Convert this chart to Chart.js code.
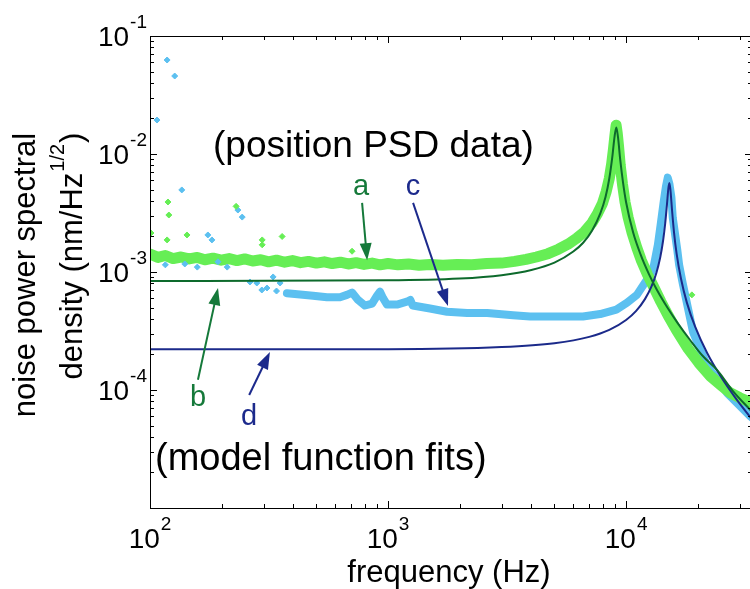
<!DOCTYPE html>
<html>
<head>
<meta charset="utf-8">
<script src="https://cdn.jsdelivr.net/npm/chart.js@4"></script>
<style>
  html, body { margin: 0; padding: 0; background: #fff; overflow: hidden; }
</style>
</head>
<body>
<canvas id="psd" width="760" height="589"></canvas>
<script>
// ---- data (frequency in Hz, amplitude in nm/Hz^1/2) ----
const greenDataFreq = [100,108,116,125,135,146,158,170,184,199,215,232,250,270,292,315,340,368,397,429,463,500,540,583,630,680,734,793,857,925,1000,1100,1220,1350,1500,1700,1950,2250,2600,3000,3400,3800,4200,4700,5200,5700,6200,6700,7200,7600,7950,8250,8500,8700,8850,8980,9080,9180,9300,9450,9650,9900,10200,10600,11100,11600,12300,13000,14000,15000,16300,18200,20200,22500,25000,27300,30000,33200,37000];
const greenDataVal = [1.42e-3,1.33e-3,1.38e-3,1.30e-3,1.34e-3,1.29e-3,1.33e-3,1.27e-3,1.31e-3,1.26e-3,1.30e-3,1.25e-3,1.29e-3,1.24e-3,1.27e-3,1.22e-3,1.26e-3,1.21e-3,1.25e-3,1.20e-3,1.23e-3,1.19e-3,1.22e-3,1.18e-3,1.21e-3,1.17e-3,1.20e-3,1.16e-3,1.19e-3,1.15e-3,1.18e-3,1.15e-3,1.17e-3,1.14e-3,1.16e-3,1.14e-3,1.16e-3,1.15e-3,1.18e-3,1.19e-3,1.23e-3,1.28e-3,1.34e-3,1.43e-3,1.56e-3,1.72e-3,1.93e-3,2.2e-3,2.62e-3,3.15e-3,3.8e-3,4.8e-3,6.2e-3,8.3e-3,1.1e-2,1.45e-2,1.75e-2,1.5e-2,1.15e-2,8.0e-3,5.6e-3,3.9e-3,2.9e-3,2.15e-3,1.6e-3,1.25e-3,9.5e-4,7.6e-4,5.6e-4,4.3e-4,3.2e-4,2.25e-4,1.7e-4,1.32e-4,1.1e-4,9.5e-5,8.6e-5,7.9e-5,7.2e-5];

const blueDataFreq = [376,427,484,554,628,672,706,748,800,857,899,925,953,990,1090,1200,1240,1270,1500,1770,2150,2610,3350,3950,4800,5650,6590,7780,9100,10100,11100,12000,12800,13100,13600,14000,14400,14700,14960,15200,15500,15700,16400,16700,17300,19100,21900,26600,33200,37000];
const blueDataVal = [6.6e-4,6.45e-4,6.3e-4,6.1e-4,6.1e-4,6.4e-4,6.7e-4,5.8e-4,5.2e-4,5.4e-4,6.3e-4,6.8e-4,6.0e-4,5.3e-4,5.3e-4,5.6e-4,5.8e-4,5.2e-4,4.9e-4,4.6e-4,4.5e-4,4.5e-4,4.3e-4,4.2e-4,4.2e-4,4.2e-4,4.2e-4,4.4e-4,4.8e-4,5.5e-4,6.4e-4,8.1e-4,1.0e-3,1.15e-3,1.7e-3,2.6e-3,4.0e-3,5.3e-3,6.3e-3,5.6e-3,4.3e-3,2.9e-3,1.55e-3,1.15e-3,8.0e-4,3.1e-4,1.6e-4,9.4e-5,6.0e-5,5.0e-5];

// stray low-frequency points
const blueStrayFreq = [107,118,127,136,175,182,234,244,158,211,263,281,310,329,295,352,116,140,193,340];
const blueStrayVal = [1.94e-2,6.26e-2,4.58e-2,4.96e-3,2.06e-3,1.87e-3,3.35e-3,2.92e-3,1.10e-3,1.10e-3,8.23e-4,8.07e-4,7.32e-4,9.08e-4,7.04e-4,8.07e-4,1.15e-3,1.17e-3,1.22e-3,6.9e-4];
const greenStrayFreq = [119,120,101,118,143,296,296,230,359,706,18900];
const greenStrayVal = [3.92e-3,3.04e-3,2.14e-3,1.87e-3,2.06e-3,1.87e-3,1.70e-3,3.6e-3,2.0e-3,1.5e-3,6.4e-4];

// model fits
const greenFitFreq = [100,1000,2000,3000,4000,5000,6000,6600,7200,7800,8200,8500,8750,8950,9100,9250,9450,9700,10000,10700,11500,12500,13500,15000,16500,18600,21000,24100,28000,33200,37000];
const greenFitVal = [8.4e-4,8.5e-4,8.8e-4,9.4e-4,1.04e-3,1.2e-3,1.49e-3,1.77e-3,2.25e-3,3.16e-3,4.35e-3,6.2e-3,9.4e-3,1.42e-2,1.68e-2,1.38e-2,8.9e-3,5.8e-3,3.9e-3,2.17e-3,1.41e-3,9.5e-4,7.0e-4,4.9e-4,3.67e-4,2.64e-4,1.94e-4,1.48e-4,9.9e-5,6.8e-5,5.4e-5];
const blueFitFreq = [100,1000,3000,5000,7000,8500,10000,11000,12000,12800,13400,13900,14300,14600,14850,15050,15200,15350,15600,15900,16300,17000,18000,19500,21900,25000,29000,33200,37000];
const blueFitVal = [2.22e-4,2.22e-4,2.31e-4,2.49e-4,2.82e-4,3.23e-4,3.92e-4,4.66e-4,5.89e-4,7.58e-4,9.8e-4,1.32e-3,1.84e-3,2.59e-3,3.74e-3,5.1e-3,5.68e-3,5.0e-3,3.32e-3,2.16e-3,1.43e-3,8.8e-4,5.5e-4,3.44e-4,2.06e-4,1.30e-4,8.4e-5,5.9e-5,4.5e-5];

// axes
const xMin = 100, xMax = 33800;
const yMin = 1e-5, yMax = 1e-1;
const xTickExp = [2, 3, 4];
const yTickExp = [-1, -2, -3, -4];

// annotation letters and arrows: [label, colour, labelF, labelV, fromF, fromV, toF, toV]
const pointers = [
  ["a", "#15793a", 771, 5.24e-3, 778, 3.85e-3, 817, 1.26e-3],
  ["c", "#1c2a8c", 1274, 5.24e-3, 1274, 3.85e-3, 1786, 5.15e-4],
  ["b", "#15793a", 159, 8.55e-5, 159, 1.22e-4, 193, 7.31e-4],
  ["d", "#1c2a8c", 261, 5.9e-5, 261, 9.07e-5, 319, 2.1e-4]
];

const FONT = '"Liberation Sans", Arial, Helvetica, sans-serif';

function pts(fs, vs) {
  return fs.map((f, i) => ({ x: f, y: vs[i] }));
}

function arrow(ctx, x1, y1, x2, y2, color) {
  const ang = Math.atan2(y2 - y1, x2 - x1);
  const head = 17, half = 6;
  const c = Math.cos(ang), s = Math.sin(ang);
  ctx.strokeStyle = color;
  ctx.fillStyle = color;
  ctx.lineWidth = 2;
  ctx.beginPath();
  ctx.moveTo(x1, y1);
  ctx.lineTo(x2 - head * c * 0.8, y2 - head * s * 0.8);
  ctx.stroke();
  ctx.beginPath();
  ctx.moveTo(x2, y2);
  ctx.lineTo(x2 - head * c + half * s, y2 - head * s - half * c);
  ctx.lineTo(x2 - head * c - half * s, y2 - head * s + half * c);
  ctx.closePath();
  ctx.fill();
}

// "10" with a superscript exponent; (cx, cy) is the middle of the base "10"
function powerLabel(ctx, exp, cx, cy, anchor) {
  ctx.font = "28px " + FONT;
  const wb = ctx.measureText("10").width;
  ctx.font = "19px " + FONT;
  const we = ctx.measureText(String(exp)).width;
  let left;
  if (anchor === "right") left = cx - wb - we - 1;
  else left = cx - (wb + we + 1) / 2;
  ctx.fillStyle = "#000";
  ctx.textBaseline = "middle";
  ctx.textAlign = "left";
  ctx.font = "28px " + FONT;
  ctx.fillText("10", left, cy);
  ctx.font = "19px " + FONT;
  ctx.fillText(String(exp), left + wb + 1, cy - 15);
}

const framePlugin = {
  id: "frame",
  afterDatasetsDraw(chart) {
    const ctx = chart.ctx;
    const a = chart.chartArea;
    const xs = chart.scales.x, ys = chart.scales.y;
    ctx.save();

    // box
    ctx.strokeStyle = "#000";
    ctx.lineWidth = 1;
    ctx.strokeRect(a.left + 0.5, a.top + 0.5, a.right - a.left, a.bottom - a.top);

    // inward ticks on all four sides
    ctx.beginPath();
    for (let d = 2; d <= 4; d++) {
      for (let m = 1; m <= 9; m++) {
        const f = m * Math.pow(10, d);
        if (f < xMin || f > xMax) continue;
        const px = Math.round(xs.getPixelForValue(f)) + 0.5;
        const len = m === 1 ? 7 : 4;
        ctx.moveTo(px, a.bottom); ctx.lineTo(px, a.bottom - len);
        ctx.moveTo(px, a.top); ctx.lineTo(px, a.top + len);
      }
    }
    for (let d = -5; d <= -2; d++) {
      for (let m = 1; m <= 9; m++) {
        const v = m * Math.pow(10, d);
        if (v < yMin || v > yMax) continue;
        const py = Math.round(ys.getPixelForValue(v)) + 0.5;
        const len = m === 1 ? 7 : 4;
        ctx.moveTo(a.left, py); ctx.lineTo(a.left + len, py);
        ctx.moveTo(a.right, py); ctx.lineTo(a.right - len, py);
      }
    }
    ctx.stroke();

    // tick labels
    xTickExp.forEach(e => {
      powerLabel(ctx, e, xs.getPixelForValue(Math.pow(10, e)), a.bottom + 32, "center");
    });
    yTickExp.forEach(e => {
      powerLabel(ctx, e, a.left - 3, ys.getPixelForValue(Math.pow(10, e)) + 2, "right");
    });

    // axis titles
    ctx.fillStyle = "#000";
    ctx.font = "31px " + FONT;
    ctx.textAlign = "center";
    ctx.textBaseline = "middle";
    ctx.fillText("frequency (Hz)", (a.left + a.right) / 2 - 2, 573);

    const midY = (a.top + a.bottom) / 2;
    ctx.save();
    ctx.translate(26, midY + 3);
    ctx.rotate(-Math.PI / 2);
    ctx.fillText("noise power spectral", 0, 0);
    ctx.restore();

    ctx.save();
    ctx.translate(73, midY - 16);
    ctx.rotate(-Math.PI / 2);
    ctx.font = "31px " + FONT;
    const p1 = "density (nm/Hz", p3 = ")";
    const w1 = ctx.measureText(p1).width, w3 = ctx.measureText(p3).width;
    ctx.font = "20px " + FONT;
    const w2 = ctx.measureText("1/2").width;
    let x0 = -(w1 + w2 + w3 + 2) / 2;
    ctx.textAlign = "left";
    ctx.font = "31px " + FONT;
    ctx.fillText(p1, x0, 0);
    ctx.font = "20px " + FONT;
    ctx.fillText("1/2", x0 + w1 + 1, -15);
    ctx.font = "31px " + FONT;
    ctx.fillText(p3, x0 + w1 + w2 + 2, 0);
    ctx.restore();

    // in-plot captions
    ctx.textAlign = "left";
    ctx.font = "37px " + FONT;
    ctx.fillText("(position PSD data)", 213, 147);
    ctx.font = "38px " + FONT;
    ctx.fillText("(model function fits)", 155, 460);

    // lettered pointers
    pointers.forEach(p => {
      const [txt, col, lf, lv, f1, v1, f2, v2] = p;
      arrow(ctx, xs.getPixelForValue(f1), ys.getPixelForValue(v1),
            xs.getPixelForValue(f2), ys.getPixelForValue(v2), col);
      ctx.fillStyle = col;
      ctx.font = "29px " + FONT;
      ctx.textAlign = "center";
      ctx.textBaseline = "middle";
      ctx.fillText(txt, xs.getPixelForValue(lf), ys.getPixelForValue(lv));
    });

    ctx.restore();
  }
};

new Chart(document.getElementById("psd"), {
  type: "line",
  data: {
    datasets: [
      {
        label: "fit b",
        data: pts(greenFitFreq, greenFitVal),
        borderColor: "#0d6a2c",
        borderWidth: 2,
        pointRadius: 0,
        cubicInterpolationMode: "monotone",
        order: 1
      },
      {
        label: "fit d",
        data: pts(blueFitFreq, blueFitVal),
        borderColor: "#1b2a8a",
        borderWidth: 2,
        pointRadius: 0,
        cubicInterpolationMode: "monotone",
        order: 1
      },
      {
        label: "stray a",
        type: "scatter",
        data: pts(greenStrayFreq, greenStrayVal),
        backgroundColor: "#66ee55",
        borderColor: "#66ee55",
        pointStyle: "rectRot",
        pointRadius: 3,
        order: 2
      },
      {
        label: "stray c",
        type: "scatter",
        data: pts(blueStrayFreq, blueStrayVal),
        backgroundColor: "#5cc0f0",
        borderColor: "#5cc0f0",
        pointStyle: "rectRot",
        pointRadius: 3,
        order: 2
      },
      {
        label: "data a",
        data: pts(greenDataFreq, greenDataVal),
        borderColor: "#66ee55",
        borderWidth: 11,
        borderJoinStyle: "round",
        borderCapStyle: "round",
        pointRadius: 0,
        order: 3
      },
      {
        label: "data c",
        data: pts(blueDataFreq, blueDataVal),
        borderColor: "#5cc0f0",
        borderWidth: 8,
        borderJoinStyle: "round",
        borderCapStyle: "round",
        pointRadius: 0,
        order: 4
      }
    ]
  },
  options: {
    responsive: false,
    animation: false,
    devicePixelRatio: 1,
    layout: { padding: { left: 150, top: 36, right: 8, bottom: 81 } },
    plugins: { legend: { display: false }, tooltip: { enabled: false } },
    scales: {
      x: { type: "logarithmic", min: xMin, max: xMax, display: false },
      y: { type: "logarithmic", min: yMin, max: yMax, display: false }
    }
  },
  plugins: [framePlugin]
});
</script>
</body>
</html>
